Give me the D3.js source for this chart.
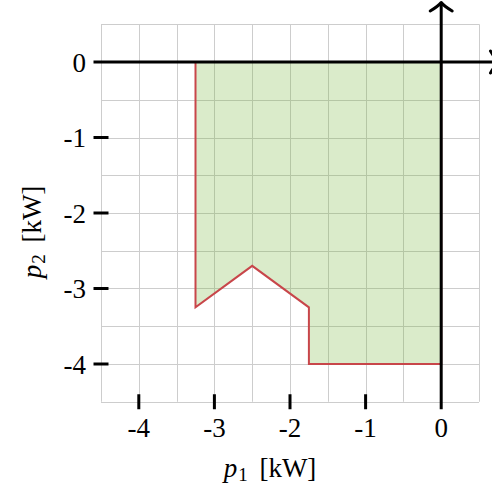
<!DOCTYPE html>
<html>
<head>
<meta charset="utf-8">
<script src="https://cdn.jsdelivr.net/npm/d3@7"></script>
<style>
  html, body { margin: 0; padding: 0; background: #fff; }
  svg { display: block; }
</style>
</head>
<body>
<svg id="chart" width="492" height="487"></svg>
<script>
// Feasible region of (p1, p2) in kW, listed as polygon vertices
const regionP1 = [-3.25, 0, 0, -1.75, -1.75, -2.5, -3.25];
const regionP2 = [0, 0, -4, -4, -3.25, -2.7, -3.25];

// Axis ticks and their labels
const xTicks = [-4, -3, -2, -1, 0];
const xTickLabels = ["-4", "-3", "-2", "-1", "0"];
const yTicks = [0, -1, -2, -3, -4];
const yTickLabels = ["0", "-1", "-2", "-3", "-4"];

// Grid spacing and plot extent (kW)
const gridStep = 0.5;
const xDomain = [-4.5, 0.5];
const yDomain = [0.5, -4.5];

(function draw() {
  const svg = d3.select("#chart");
  const serif = "Liberation Serif";

  const x = d3.scaleLinear().domain(xDomain).range([101, 479]);
  const y = d3.scaleLinear().domain(yDomain).range([24.25, 401.75]);

  const x0 = x(0), y0 = y(0);
  const plotLeft = x.range()[0], plotRight = x.range()[1];
  const plotTop = y.range()[0], plotBottom = y.range()[1];

  // Grid
  const gx = d3.range(xDomain[0], xDomain[1] + 1e-9, gridStep);
  const gy = d3.range(yDomain[1], yDomain[0] + 1e-9, gridStep);
  const grid = svg.append("g")
    .attr("stroke", "#cdcdcd")
    .attr("stroke-width", 1);
  grid.selectAll("line.v").data(gx).join("line")
    .attr("class", "v")
    .attr("x1", d => Math.round(x(d)) + 0.5).attr("x2", d => Math.round(x(d)) + 0.5)
    .attr("y1", plotTop).attr("y2", plotBottom);
  grid.selectAll("line.h").data(gy).join("line")
    .attr("class", "h")
    .attr("y1", d => Math.round(y(d)) + 0.5).attr("y2", d => Math.round(y(d)) + 0.5)
    .attr("x1", plotLeft).attr("x2", plotRight);

  // Feasible region (translucent fill over the grid)
  const pts = regionP1.map((p, i) => [x(p), y(regionP2[i])]);
  svg.append("path")
    .attr("d", d3.line()(pts) + "Z")
    .attr("fill", "#78b43c")
    .attr("fill-opacity", 0.27)
    .attr("stroke", "#c8464a")
    .attr("stroke-width", 2)
    .attr("stroke-linejoin", "miter");

  // Axis lines
  const tickHalf = 7.5;
  svg.append("line")
    .attr("x1", plotLeft - tickHalf).attr("x2", 500)
    .attr("y1", y0).attr("y2", y0)
    .attr("stroke", "#000").attr("stroke-width", 3);
  svg.append("line")
    .attr("x1", x0).attr("x2", x0)
    .attr("y1", plotBottom + tickHalf).attr("y2", 3)
    .attr("stroke", "#000").attr("stroke-width", 3);

  // Arrow heads
  svg.append("path")
    .attr("d", `M${x0 - 11},11 C${x0 - 6},8 ${x0 - 2},5 ${x0},2.5 C${x0 + 2},5 ${x0 + 6},8 ${x0 + 11},11`)
    .attr("fill", "none").attr("stroke", "#000").attr("stroke-width", 3)
    .attr("stroke-linecap", "round").attr("stroke-linejoin", "round");
  const ax = 499;
  svg.append("path")
    .attr("d", `M${ax - 8.5},${y0 - 11} C${ax - 5.5},${y0 - 6} ${ax - 2.5},${y0 - 2} ${ax},${y0} C${ax - 2.5},${y0 + 2} ${ax - 5.5},${y0 + 6} ${ax - 8.5},${y0 + 11}`)
    .attr("fill", "none").attr("stroke", "#000").attr("stroke-width", 3)
    .attr("stroke-linecap", "round").attr("stroke-linejoin", "round");

  // Tick marks
  svg.selectAll("line.xt").data(xTicks.filter(d => d !== 0)).join("line")
    .attr("class", "xt")
    .attr("x1", d => x(d)).attr("x2", d => x(d))
    .attr("y1", plotBottom - tickHalf).attr("y2", plotBottom + tickHalf)
    .attr("stroke", "#000").attr("stroke-width", 3);
  svg.selectAll("line.yt").data(yTicks.filter(d => d !== 0)).join("line")
    .attr("class", "yt")
    .attr("y1", d => y(d)).attr("y2", d => y(d))
    .attr("x1", plotLeft - tickHalf).attr("x2", plotLeft + tickHalf)
    .attr("stroke", "#000").attr("stroke-width", 3);

  // Tick labels
  const fs = 27;
  svg.selectAll("text.xl").data(xTicks).join("text")
    .attr("class", "xl")
    .attr("x", d => x(d)).attr("y", 437)
    .attr("text-anchor", "middle")
    .attr("font-family", serif)
    .attr("font-size", fs)
    .text((d, i) => xTickLabels[i]);
  svg.selectAll("text.yl").data(yTicks).join("text")
    .attr("class", "yl")
    .attr("x", 86).attr("y", d => y(d) + 9.5)
    .attr("text-anchor", "end")
    .attr("font-family", serif)
    .attr("font-size", fs)
    .text((d, i) => yTickLabels[i]);

  // Axis titles
  const xt = svg.append("text")
    .attr("x", 270).attr("y", 477)
    .attr("text-anchor", "middle")
    .attr("font-family", serif)
    .attr("font-size", fs);
  xt.append("tspan").attr("font-style", "italic").text("p");
  xt.append("tspan").attr("font-size", 19).attr("dy", 4).attr("dx", 1).text("1");
  xt.append("tspan").attr("dy", -4).attr("dx", 5).text(" [kW]");

  const yt = svg.append("text")
    .attr("transform", "translate(41,232) rotate(-90)")
    .attr("text-anchor", "middle")
    .attr("font-family", serif)
    .attr("font-size", fs);
  yt.append("tspan").attr("font-style", "italic").text("p");
  yt.append("tspan").attr("font-size", 19).attr("dy", 4).attr("dx", 1).text("2");
  yt.append("tspan").attr("dy", -4).attr("dx", 5).text(" [kW]");
})();
</script>
</body>
</html>
